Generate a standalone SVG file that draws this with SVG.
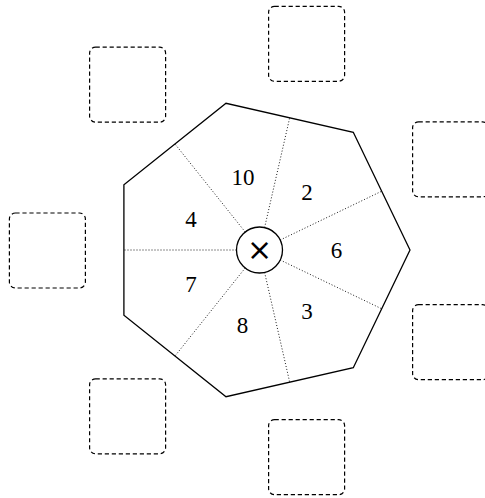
<svg xmlns="http://www.w3.org/2000/svg" width="485" height="498" viewBox="0 0 485 498">
<style>
.slot{fill:none;stroke:#000;stroke-width:1.2;stroke-dasharray:4.2 2.8}
.hept{fill:#fff;stroke:#000;stroke-width:1.3;stroke-linejoin:miter}
.div{stroke:#000;stroke-width:0.9;stroke-dasharray:1 2;fill:none}
.lbl{font-family:"Liberation Serif","DejaVu Serif",serif;font-size:23px;text-anchor:middle;fill:#000}
</style>
<rect width="485" height="498" fill="#fff"/>
<g id="slots">
<g id="slot-top"><rect class="slot" x="268.6" y="6.3" width="76" height="75" rx="6"/></g>
<g id="slot-top-left"><rect class="slot" x="89.6" y="47.2" width="76" height="75" rx="6"/></g>
<g id="slot-left"><rect class="slot" x="9.4" y="213" width="76" height="75" rx="6"/></g>
<g id="slot-bottom-left"><rect class="slot" x="89.6" y="378.8" width="76" height="75" rx="6"/></g>
<g id="slot-bottom"><rect class="slot" x="268.6" y="419.7" width="76" height="75" rx="6"/></g>
<g id="slot-right-top"><rect class="slot" x="412.6" y="121.8" width="76" height="75" rx="6"/></g>
<g id="slot-right-bottom"><rect class="slot" x="412.6" y="304.7" width="76" height="75" rx="6"/></g>
</g>
<g id="heptagon">
<polygon class="hept" points="410,250 353.3,132.3 226,103.3 123.9,184.7 123.9,315.3 226,396.7 353.3,367.7"/>
</g>
<g id="dividers">
<line class="div" x1="280.2" y1="240" x2="381.7" y2="191.2"/>
<line class="div" x1="264.6" y1="227.6" x2="289.7" y2="117.8"/>
<line class="div" x1="245.2" y1="232" x2="175" y2="144"/>
<line class="div" x1="236.5" y1="250" x2="123.9" y2="250"/>
<line class="div" x1="245.2" y1="268" x2="175" y2="356"/>
<line class="div" x1="264.6" y1="272.4" x2="289.7" y2="382.2"/>
<line class="div" x1="280.2" y1="260" x2="381.7" y2="308.8"/>
</g>
<g id="center">
<circle cx="259.5" cy="250" r="23" fill="#fff" stroke="#000" stroke-width="1.3"/>
<text x="259.5" y="260" font-family="DejaVu Sans, sans-serif" font-size="30" text-anchor="middle" fill="#000">×</text>
</g>
<g id="sector-6"><text class="lbl" x="336.5" y="258">6</text></g>
<g id="sector-2"><text class="lbl" x="307" y="200">2</text></g>
<g id="sector-10"><text class="lbl" x="243" y="185">10</text></g>
<g id="sector-4"><text class="lbl" x="191" y="226.5">4</text></g>
<g id="sector-7"><text class="lbl" x="191" y="291.5">7</text></g>
<g id="sector-8"><text class="lbl" x="242.5" y="333">8</text></g>
<g id="sector-3"><text class="lbl" x="307" y="318.5">3</text></g>
</svg>
